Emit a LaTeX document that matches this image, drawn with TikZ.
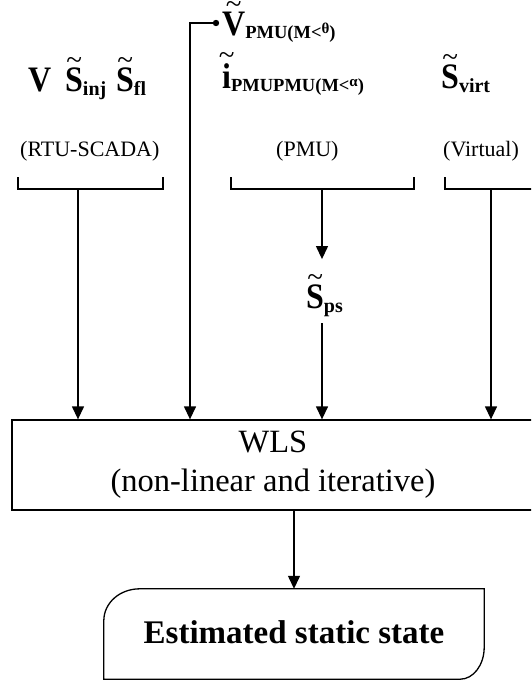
\documentclass[tikz,border=0pt]{standalone}
\usepackage{fontspec}
\usepackage{graphicx}
\setmainfont{Liberation Serif}
\usetikzlibrary{arrows.meta,calc}

% bold letter, slightly tall, with a thin tilde set above it (the tilde takes no height)
\newcommand\tld[1]{\leavevmode\setbox0=\hbox{\scalebox{1}[1.12]{#1}}%
  \hbox to\wd0{\hss\smash{\raisebox{\dimexpr\ht0-1.8pt\relax}{\fontsize{29}{29}\mdseries\selectfont\textasciitilde}}\hss}%
  \kern-\wd0\box0}
% lowered subscripts
\newcommand\sbs[1]{\raisebox{-4pt}{\fontsize{20}{20}\selectfont #1}}
\newcommand\sbp[1]{\raisebox{-3pt}{\fontsize{18.5}{18.5}\selectfont #1}}
\newcommand\sbsup[1]{\raisebox{5pt}{\fontsize{15}{15}\selectfont #1}}

\begin{document}
\begin{tikzpicture}[x=1pt,y=-1pt,
  every node/.style={inner sep=0pt},
  lab/.style={anchor=base west,font=\fontsize{32}{36}\bfseries\selectfont},
  src/.style={anchor=base west,font=\fontsize{22}{24}\selectfont},
  ln/.style={line width=1.3pt},
  conn/.style={line width=1.3pt,-{Triangle[width=12pt,length=13pt]}},
  box/.style={draw,line width=1.3pt}]
\useasboundingbox (0,0) rectangle (531,683);
\clip (0,0) rectangle (531,683);

% measurement labels
\node[lab] (v)    at (28,91)  {\scalebox{1}[1.12]{V}};
\node[lab] (sinj) at (65,91)  {\tld{S}\sbs{inj}};
\node[lab] (sfl)  at (116,91) {\tld{S}\sbs{fl}};
\node[lab] (vpmu) at (222,35) {\tld{V}\sbp{PMU(M<\sbsup{θ})}};
\node[lab] (ipmu) at (222,88) {\tld{i}\sbp{PMUPMU(M<\sbsup{α})}};
\node[lab] (svirt) at (441,88) {\tld{S}\sbs{virt}};

% sources
\node[src] (rtu)  at (20,156)  {(RTU-SCADA)};
\node[src] (pmu)  at (276,156) {(PMU)};
\node[src] (virt) at (443,156) {(Virtual)};

% brackets and their stems
\draw[ln] (18,177) -- (18,189) -- (163,189) -- (163,177);
\draw[ln] (231,177) -- (231,189) -- (414,189) -- (414,177);
\draw[ln] (445,177) -- (445,189) -- (560,189);
\coordinate (rtustem)  at (78,189);
\coordinate (pmustem)  at (322,189);
\coordinate (virtstem) at (491,189);

% estimator
\node[box,minimum width=522pt,minimum height=90pt,align=center,
      font=\fontsize{32.5}{39}\selectfont] (wls) at (273,465)
      {WLS\\(non-linear and iterative)};

% pseudo-measurement
\node[lab] (sps) at (306,308) {\tld{S}\sbs{ps}};

% PMU voltage feed
\coordinate (vdot) at (216,23);
\coordinate (vbend) at (190,23);
\fill (vdot) circle (3.2pt);
\draw[conn] (vdot) -- (vbend) -- (vbend |- wls.north);

\draw[conn] (rtustem) -- (rtustem |- wls.north);
\draw[conn] (pmustem) -- ([yshift=25pt]pmustem |- sps.north);
\draw[conn] ([yshift=-7pt]pmustem |- sps.south) -- (pmustem |- wls.north);
\draw[conn] (virtstem) -- (virtstem |- wls.north);

% result
\node (est) at (294,634) [minimum width=380pt,minimum height=90pt] {};
\draw[ln] (est.south west) -- ($(est.north west)+(0,32)$)
  .. controls ($(est.north west)+(0,14)$) and ($(est.north west)+(16,0)$) .. ($(est.north west)+(36,0)$)
  -- (est.north east) -- ($(est.south east)+(0,-32)$)
  .. controls ($(est.south east)+(0,-14)$) and ($(est.south east)+(-11,0)$) .. ($(est.south east)+(-24,0)$)
  -- cycle;
\node[anchor=base,font=\fontsize{33}{36}\bfseries\selectfont] (esttext) at (294,643) {Estimated static state};
\draw[conn] (wls.south -| est.north) -- (est.north);
\end{tikzpicture}
\end{document}
